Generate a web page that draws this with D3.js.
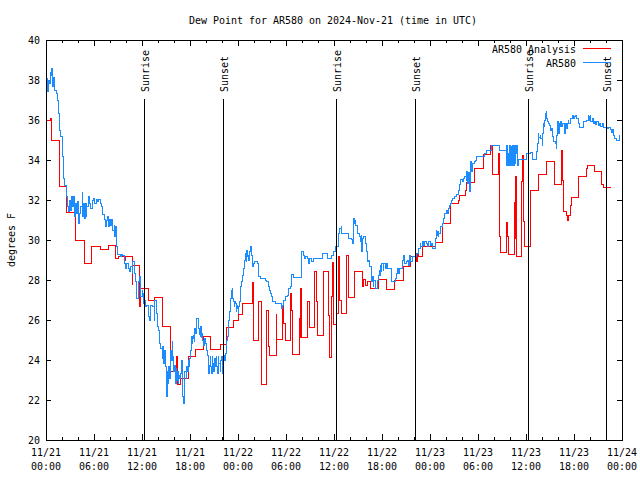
<!DOCTYPE html>
<html>
<head>
<meta charset="utf-8">
<script src="https://cdn.jsdelivr.net/npm/d3@7"></script>
<style>
  body { margin: 0; background: #fff; }
  text { font-family: 'DejaVu Sans Mono', monospace; font-size: 11px; fill: #000; }
</style>
</head>
<body>
<div id="chart"></div>
<script>
/* global d3 */

const w = 640
const h = 480

// hours since 2024-11-21 00:00 UTC, dew point in F
const analysis = [
  [0.08, 36.0], [0.58, 36.1], [0.67, 35.0], [1.67, 32.7], [2.4, 32.75], [2.58, 31.4], [3.67, 30.0],
  [4.75, 28.85], [5.67, 29.7], [6.75, 29.55], [7.75, 29.75], [8.7, 29.1], [9.0, 29.2], [9.75, 29.0],
  [9.92, 29.2], [10.75, 27.8], [10.85, 28.75], [11.67, 26.7], [11.8, 27.6], [12.8, 27.0], [13.55, 27.13],
  [14.58, 25.7], [15.5, 25.08], [15.6, 23.45], [16.25, 24.2], [16.42, 22.8], [16.75, 23.1], [17.75, 24.2],
  [18.67, 24.53], [19.7, 25.2], [20.58, 24.53], [21.75, 24.77], [22.58, 25.63], [23.4, 26.0], [24.1, 26.3],
  [24.6, 26.83], [25.75, 27.9], [25.95, 25.0], [26.6, 26.95], [26.95, 22.8], [27.6, 26.5], [27.75, 24.67],
  [27.9, 24.23], [28.75, 26.3], [28.85, 25.05], [29.54, 26.73], [29.71, 25.83], [29.88, 25.0], [30.54, 27.33],
  [30.7, 26.5], [30.79, 24.3], [31.63, 26.07], [31.71, 25.13], [31.79, 27.58], [31.88, 25.13], [32.63, 26.92],
  [32.88, 25.62], [33.54, 28.42], [33.79, 26.92], [33.96, 25.25], [34.71, 28.45], [35.29, 26.25], [35.38, 24.12],
  [35.63, 27.17], [35.79, 28.87], [35.88, 25.8], [36.33, 26.33], [36.5, 29.2], [36.67, 27.0], [36.96, 26.33],
  [37.6, 29.25], [37.75, 27.13], [38.6, 28.43], [39.56, 27.7], [39.65, 28.05], [39.96, 27.75], [40.13, 27.95],
  [40.54, 27.58], [41.54, 28.03], [42.6, 27.53], [43.58, 28.0], [44.67, 28.7], [45.58, 29.2], [46.25, 28.95],
  [46.4, 29.3], [46.5, 29.2], [47.0, 29.7], [48.67, 29.87], [49.58, 30.83], [50.58, 31.83], [51.5, 32.0],
  [51.67, 32.25], [52.42, 32.5], [52.5, 32.87], [53.58, 33.58], [54.67, 34.3], [55.5, 34.6], [55.55, 34.75],
  [55.75, 33.3], [56.5, 34.33], [56.67, 30.2], [56.75, 29.38], [57.58, 30.87], [57.7, 30.17], [57.83, 29.3],
  [58.55, 31.9], [58.65, 30.1], [58.7, 33.2], [58.78, 29.17], [59.46, 32.92], [59.6, 34.25], [59.7, 30.92],
  [59.85, 29.67], [60.54, 32.47], [61.54, 33.3], [62.54, 33.92], [63.54, 32.78], [64.38, 33.67], [64.46, 34.5],
  [64.52, 33.0], [64.71, 31.42], [65.04, 31.25], [65.13, 31.0], [65.29, 31.25], [65.54, 31.73], [65.71, 32.13],
  [66.54, 33.2], [67.54, 33.58], [67.71, 33.73], [68.54, 33.42], [69.46, 32.8], [69.71, 32.63], [70.6, 32.63]
]

const observed = [
  [0.08, 38.08], [0.17, 37.42], [0.25, 38.0], [0.42, 37.83], [0.5, 38.37], [0.58, 38.25], [0.67, 38.58],
  [0.75, 38.08], [0.83, 37.67], [0.92, 38.13], [1.0, 37.75], [1.08, 37.5], [1.25, 37.33], [1.42, 37.0],
  [1.58, 36.33], [1.67, 35.47], [1.83, 35.17], [2.0, 34.17], [2.17, 33.08], [2.33, 32.75], [2.5, 32.42],
  [2.58, 32.17], [2.67, 31.67], [2.83, 31.42], [2.92, 32.0], [3.0, 31.5], [3.17, 32.17], [3.33, 31.67],
  [3.42, 32.17], [3.5, 31.17], [3.67, 31.83], [3.83, 31.33], [3.92, 31.92], [4.08, 30.83], [4.17, 31.33],
  [4.33, 31.67], [4.5, 32.37], [4.58, 31.17], [4.67, 31.83], [4.83, 31.08], [4.92, 31.83], [5.0, 31.17],
  [5.08, 31.67], [5.25, 32.2], [5.42, 31.83], [5.58, 31.58], [5.75, 32.0], [5.92, 32.08], [6.08, 31.83],
  [6.25, 32.03], [6.42, 31.92], [6.58, 32.03], [6.75, 31.83], [6.92, 31.7], [7.08, 31.3], [7.25, 31.03],
  [7.42, 30.67], [7.5, 31.0], [7.67, 31.17], [7.75, 30.67], [7.92, 31.03], [8.08, 30.75], [8.17, 31.03],
  [8.33, 30.5], [8.5, 30.75], [8.58, 30.17], [8.67, 30.67], [8.75, 30.0], [8.83, 29.67], [8.92, 29.3],
  [9.25, 29.17], [9.42, 29.3], [9.58, 29.25], [9.75, 28.83], [9.92, 28.58], [10.08, 28.83], [10.25, 28.58],
  [10.42, 28.42], [10.58, 28.67], [10.75, 28.33], [10.83, 28.92], [11.0, 28.67], [11.08, 28.33], [11.17, 27.92],
  [11.25, 27.5], [11.33, 27.08], [11.5, 27.92], [11.67, 28.17], [11.75, 27.5], [11.83, 27.17], [12.0, 27.5],
  [12.08, 27.33], [12.17, 26.83], [12.25, 27.0], [12.42, 26.67], [12.58, 26.75], [12.75, 26.17], [12.92, 26.0],
  [13.0, 26.75], [13.33, 26.67], [13.5, 26.0], [13.58, 27.0], [13.75, 26.75], [13.83, 26.33], [13.92, 25.67],
  [14.08, 25.5], [14.17, 24.83], [14.33, 24.58], [14.5, 24.08], [14.58, 24.7], [14.67, 23.83], [14.83, 24.5],
  [14.92, 23.67], [15.0, 23.0], [15.08, 22.2], [15.17, 23.42], [15.25, 22.83], [15.33, 23.67], [15.42, 23.08],
  [15.5, 23.83], [15.58, 24.5], [15.67, 24.0], [15.75, 24.92], [15.83, 24.17], [15.92, 23.42], [16.08, 23.75],
  [16.17, 22.83], [16.25, 23.58], [16.33, 23.0], [16.42, 23.42], [16.5, 22.83], [16.58, 23.25], [16.67, 23.08],
  [16.83, 23.33], [16.92, 24.0], [17.0, 22.67], [17.08, 22.17], [17.17, 21.83], [17.25, 22.67], [17.33, 23.42],
  [17.5, 23.08], [17.58, 23.67], [17.67, 23.42], [17.75, 24.0], [17.83, 23.67], [17.92, 24.08], [18.08, 24.5],
  [18.17, 25.17], [18.25, 24.83], [18.33, 25.08], [18.42, 25.25], [18.5, 24.92], [18.58, 25.58], [18.67, 25.33],
  [18.75, 26.08], [18.92, 26.08], [19.0, 25.75], [19.08, 25.58], [19.17, 25.3], [19.25, 25.17], [19.33, 25.67],
  [19.42, 25.13], [19.5, 25.33], [19.58, 25.0], [19.67, 24.75], [19.75, 25.08], [19.92, 24.83], [20.0, 24.5],
  [20.17, 24.25], [20.25, 23.83], [20.33, 23.33], [20.42, 23.75], [20.5, 24.17], [20.58, 23.67], [20.67, 23.33],
  [20.75, 24.17], [20.83, 23.83], [20.92, 23.42], [21.0, 23.75], [21.08, 24.08], [21.17, 23.67], [21.25, 24.17],
  [21.33, 23.67], [21.42, 23.33], [21.5, 24.17], [21.58, 23.83], [21.75, 23.42], [21.83, 24.0], [21.92, 24.17],
  [22.0, 23.75], [22.08, 23.33], [22.17, 24.0], [22.25, 24.25], [22.33, 24.0], [22.42, 24.33], [22.5, 24.67],
  [22.58, 25.0], [22.67, 25.17], [22.75, 25.58], [22.83, 26.0], [22.92, 26.42], [23.0, 26.75], [23.08, 27.08],
  [23.17, 27.5], [23.25, 27.58], [23.33, 27.08], [23.42, 26.92], [23.5, 26.67], [23.58, 26.92], [23.67, 26.83],
  [23.75, 26.42], [23.83, 26.75], [23.92, 26.58], [24.0, 26.33], [24.08, 26.67], [24.17, 26.92], [24.25, 27.25],
  [24.33, 27.67], [24.42, 27.92], [24.5, 28.17], [24.58, 28.25], [24.67, 28.58], [24.75, 28.67], [24.83, 29.0],
  [24.92, 29.33], [25.0, 28.92], [25.08, 29.5], [25.17, 29.17], [25.25, 29.25], [25.33, 29.0], [25.42, 29.42],
  [25.5, 29.58], [25.58, 29.67], [25.67, 29.25], [25.75, 28.83], [25.83, 28.67], [25.92, 28.83], [26.0, 28.92],
  [26.33, 28.92], [26.42, 28.83], [26.5, 28.42], [26.58, 28.17], [26.75, 28.08], [27.42, 28.0], [27.58, 27.92],
  [27.75, 27.75], [27.83, 27.67], [27.92, 27.5], [28.0, 27.33], [28.17, 27.17], [28.25, 26.92], [28.63, 26.83],
  [29.21, 26.83], [29.38, 26.58], [29.54, 26.75], [29.71, 27.0], [29.88, 27.17], [30.13, 27.25], [30.29, 27.58],
  [30.54, 27.7], [30.71, 28.3], [30.88, 28.13], [31.79, 28.13], [31.88, 29.17], [31.96, 29.42], [32.13, 29.25],
  [32.29, 29.08], [32.46, 29.2], [32.63, 29.08], [32.79, 28.83], [32.96, 29.08], [33.21, 28.92], [33.46, 29.08],
  [34.46, 29.08], [34.54, 29.33], [34.96, 29.33], [35.13, 29.08], [35.54, 29.08], [35.71, 29.25], [35.96, 29.42],
  [36.13, 29.67], [36.54, 30.33], [36.71, 30.58], [36.88, 30.67], [36.96, 30.33], [37.63, 30.33], [37.79, 30.08],
  [38.13, 30.03], [38.29, 29.83], [38.46, 31.08], [38.54, 30.83], [38.63, 31.0], [38.71, 30.75], [38.88, 30.58],
  [38.96, 30.33], [39.13, 30.17], [39.29, 29.92], [39.38, 30.25], [39.46, 29.42], [39.54, 30.08], [39.71, 30.17],
  [39.88, 29.83], [40.04, 29.42], [40.13, 28.92], [40.29, 29.0], [40.46, 28.67], [40.63, 28.5], [40.71, 27.92],
  [40.79, 28.17], [40.88, 27.67], [40.96, 28.0], [41.13, 27.83], [41.21, 27.58], [41.38, 28.0], [41.54, 28.25],
  [41.63, 28.5], [41.71, 28.25], [41.79, 28.75], [41.88, 28.42], [41.96, 28.83], [42.13, 28.5], [42.21, 28.83],
  [42.38, 28.58], [42.54, 28.83], [42.63, 28.58], [43.04, 28.58], [43.13, 27.92], [43.5, 27.92], [43.67, 28.08],
  [43.75, 28.33], [43.92, 28.58], [44.08, 28.33], [44.17, 28.58], [44.5, 28.58], [44.58, 29.0], [44.67, 29.25],
  [44.83, 28.83], [45.0, 28.92], [45.17, 29.0], [45.33, 28.75], [45.42, 29.25], [45.58, 28.92], [45.75, 29.17],
  [46.08, 29.17], [46.33, 29.33], [46.5, 29.42], [46.58, 29.58], [46.75, 29.83], [46.83, 29.67], [47.0, 29.92],
  [47.17, 29.75], [47.33, 29.92], [47.5, 29.83], [47.67, 29.67], [47.83, 29.92], [48.0, 29.75], [48.17, 29.83],
  [48.25, 29.58], [48.58, 29.58], [48.67, 30.08], [48.75, 30.5], [48.83, 30.25], [48.92, 30.42], [49.0, 30.17],
  [49.08, 30.33], [49.25, 30.5], [49.33, 30.67], [49.5, 30.83], [49.67, 31.08], [49.83, 31.33], [50.0, 31.42],
  [50.08, 31.5], [50.17, 31.33], [50.25, 31.58], [50.42, 31.75], [50.58, 31.83], [50.67, 32.0], [50.83, 32.08],
  [51.08, 32.17], [51.33, 32.3], [51.5, 32.5], [51.67, 32.8], [51.83, 33.03], [52.0, 32.92], [52.17, 33.08],
  [52.33, 33.17], [52.5, 33.0], [52.58, 33.42], [52.67, 32.83], [52.75, 33.37], [52.92, 32.42], [53.0, 33.83],
  [53.08, 33.92], [53.17, 33.42], [53.33, 33.83], [53.5, 33.92], [53.67, 34.0], [53.83, 34.17], [54.0, 34.2],
  [54.67, 34.2], [54.83, 34.33], [55.08, 34.47], [55.33, 34.5], [55.67, 34.75], [56.58, 34.75], [56.67, 34.5],
  [57.42, 34.47], [57.5, 33.75], [57.58, 34.75], [57.67, 33.75], [57.75, 34.33], [57.83, 33.75], [57.92, 34.75],
  [58.0, 33.75], [58.08, 34.67], [58.17, 33.75], [58.25, 34.42], [58.33, 34.75], [58.42, 33.75], [58.5, 34.75],
  [58.58, 33.83], [58.67, 34.75], [58.75, 34.33], [58.83, 34.75], [58.92, 33.75], [59.0, 34.0], [59.08, 34.03],
  [59.92, 34.03], [60.0, 34.33], [60.42, 34.33], [60.58, 34.37], [60.75, 34.3], [60.83, 34.03], [61.25, 34.03],
  [61.33, 34.42], [61.42, 34.83], [61.5, 35.33], [61.58, 35.13], [61.75, 35.25], [61.83, 35.08], [62.0, 34.75],
  [62.08, 35.33], [62.17, 35.83], [62.25, 35.67], [62.33, 36.0], [62.42, 36.33], [62.5, 36.42], [62.58, 36.08],
  [62.67, 35.92], [62.83, 35.83], [62.92, 35.75], [63.0, 35.5], [63.17, 35.58], [63.33, 35.17], [63.42, 34.92],
  [63.67, 34.83], [63.75, 34.58], [63.83, 35.25], [63.92, 35.92], [64.0, 35.67], [64.08, 35.33], [64.17, 35.83],
  [64.25, 35.67], [64.33, 35.92], [64.42, 35.67], [64.58, 35.83], [64.75, 35.58], [64.83, 35.33], [64.92, 35.83],
  [65.0, 35.58], [65.17, 35.83], [65.25, 36.0], [65.33, 35.83], [65.5, 36.0], [65.58, 36.08], [65.75, 36.25],
  [65.92, 36.08], [66.08, 36.17], [66.17, 36.25], [66.33, 36.08], [66.5, 35.83], [66.67, 35.63], [67.0, 35.63],
  [67.17, 35.92], [67.58, 35.97], [67.75, 36.25], [67.83, 36.0], [67.92, 36.17], [68.0, 36.25], [68.08, 35.92],
  [68.25, 36.08], [68.42, 35.83], [68.5, 35.92], [68.67, 35.8], [68.83, 35.92], [69.0, 35.75], [69.17, 35.83],
  [69.33, 35.7], [69.5, 35.83], [69.67, 35.63], [70.0, 35.63], [70.17, 35.58], [70.33, 35.63], [70.5, 35.53],
  [70.67, 35.37], [70.75, 35.53], [70.92, 35.25], [71.08, 35.08], [71.25, 35.0], [71.5, 35.0], [71.67, 35.25]
]

const sunrise = [12.28, 36.28, 60.28]
const sunset = [22.17, 46.17, 70.04]

const yTicks = [20, 22, 24, 26, 28, 30, 32, 34, 36, 38, 40]
const xMajor = [0, 6, 12, 18, 24, 30, 36, 42, 48, 54, 60, 66, 72]
const xMinor = [2, 4, 8, 10, 14, 16, 20, 22, 26, 28, 32, 34, 38, 40, 44, 46, 50, 52, 56, 58, 62, 64, 68, 70]

const t0 = Date.UTC(2024, 10, 21)
const toDate = hr => new Date(t0 + hr * 3600e3)
const fmtDay = d3.utcFormat('%m/%d')
const fmtTime = d3.utcFormat('%H:%M')

const plotL = 46
const plotR = 622
const plotT = 40
const plotB = 440

const x = d3.scaleUtc().domain([toDate(0), toDate(72)]).range([plotL, plotR])
const y = d3.scaleLinear().domain([20, 40]).range([plotB, plotT])

// squeeze glyphs to a 6px cell, like the gd bitmap font
function fit (sel) {
  sel.each(function () {
    const n = this.textContent.length
    d3.select(this).attr('textLength', n * 6).attr('lengthAdjust', 'spacingAndGlyphs')
  })
}

const svg = d3.select('#chart').append('svg')
  .attr('width', w)
  .attr('height', h)

// axes (ticks point inward, mirrored on the other side)
const yLeft = d3.axisLeft(y).tickValues(yTicks).tickSize(-5).tickSizeOuter(0).tickPadding(6)
const yRight = d3.axisRight(y).tickValues(yTicks).tickSize(-5).tickSizeOuter(0).tickFormat('')
const xBot = d3.axisBottom(x).tickValues(xMajor.map(toDate)).tickSize(-6).tickSizeOuter(0).tickFormat('')
const xTop = d3.axisTop(x).tickValues(xMajor.map(toDate)).tickSize(-6).tickSizeOuter(0).tickFormat('')
const xBotMin = d3.axisBottom(x).tickValues(xMinor.map(toDate)).tickSize(-3).tickSizeOuter(0).tickFormat('')
const xTopMin = d3.axisTop(x).tickValues(xMinor.map(toDate)).tickSize(-3).tickSizeOuter(0).tickFormat('')

const $yl = svg.append('g').attr('transform', `translate(${plotL},0)`).call(yLeft)
svg.append('g').attr('transform', `translate(${plotR},0)`).call(yRight)
svg.append('g').attr('transform', `translate(0,${plotB})`).call(xBot)
svg.append('g').attr('transform', `translate(0,${plotT})`).call(xTop)
svg.append('g').attr('transform', `translate(0,${plotB})`).call(xBotMin)
svg.append('g').attr('transform', `translate(0,${plotT})`).call(xTopMin)

svg.selectAll('.domain').remove()
svg.selectAll('.tick line').attr('stroke', '#000').attr('shape-rendering', 'crispEdges')
svg.selectAll('g').attr('font-size', null).attr('font-family', null)
$yl.selectAll('text').call(fit)

const xl = svg.append('g')
xl.selectAll('text.day').data(xMajor).join('text')
  .attr('class', 'day')
  .attr('x', d => x(toDate(d)))
  .attr('y', 456)
  .attr('text-anchor', 'middle')
  .text(d => fmtDay(toDate(d)))
  .call(fit)
xl.selectAll('text.clock').data(xMajor).join('text')
  .attr('class', 'clock')
  .attr('x', d => x(toDate(d)))
  .attr('y', 470)
  .attr('text-anchor', 'middle')
  .text(d => fmtTime(toDate(d)))
  .call(fit)

// border
svg.append('rect')
  .attr('x', plotL).attr('y', plotT)
  .attr('width', plotR - plotL).attr('height', plotB - plotT)
  .attr('fill', 'none').attr('stroke', '#000')
  .attr('shape-rendering', 'crispEdges')

// series
const line = d3.line()
  .x(d => x(toDate(d[0])))
  .y(d => y(d[1]))
  .curve(d3.curveStepAfter)

svg.append('path')
  .datum(analysis)
  .attr('d', line)
  .attr('fill', 'none')
  .attr('stroke', '#ff0000')
  .attr('stroke-width', 1)
  .attr('shape-rendering', 'crispEdges')

svg.append('path')
  .datum(observed)
  .attr('d', line)
  .attr('fill', 'none')
  .attr('stroke', '#1a8cff')
  .attr('stroke-width', 1)
  .attr('shape-rendering', 'crispEdges')

// sunrise / sunset markers
const marks = sunrise.map(t => ({ t, label: 'Sunrise' }))
  .concat(sunset.map(t => ({ t, label: 'Sunset' })))

svg.selectAll('line.sun').data(marks).join('line')
  .attr('class', 'sun')
  .attr('x1', d => Math.round(x(toDate(d.t))) + 0.5)
  .attr('x2', d => Math.round(x(toDate(d.t))) + 0.5)
  .attr('y1', 99)
  .attr('y2', plotB)
  .attr('stroke', '#000')
  .attr('shape-rendering', 'crispEdges')

svg.selectAll('text.sun').data(marks).join('text')
  .attr('class', 'sun')
  .attr('transform', d => `translate(${x(toDate(d.t)) + 5},92) rotate(-90)`)
  .text(d => d.label)
  .call(fit)

// legend
const legend = [
  { name: 'AR580 Analysis', color: '#ff0000', y: 48.5 },
  { name: 'AR580', color: '#1a8cff', y: 62.5 }
]
const lg = svg.append('g')
lg.selectAll('text').data(legend).join('text')
  .attr('x', 576)
  .attr('y', d => d.y + 4.5)
  .attr('text-anchor', 'end')
  .text(d => d.name)
  .call(fit)
lg.selectAll('line').data(legend).join('line')
  .attr('x1', 583).attr('x2', 611)
  .attr('y1', d => d.y).attr('y2', d => d.y)
  .attr('stroke', d => d.color)
  .attr('shape-rendering', 'crispEdges')

// titles
svg.append('text')
  .attr('x', 333)
  .attr('y', 24)
  .attr('text-anchor', 'middle')
  .text('Dew Point for AR580 on 2024-Nov-21 (time in UTC)')
  .call(fit)

svg.append('text')
  .attr('transform', 'translate(15,240) rotate(-90)')
  .attr('text-anchor', 'middle')
  .text('degrees F')
  .call(fit)
</script>
</body>
</html>
